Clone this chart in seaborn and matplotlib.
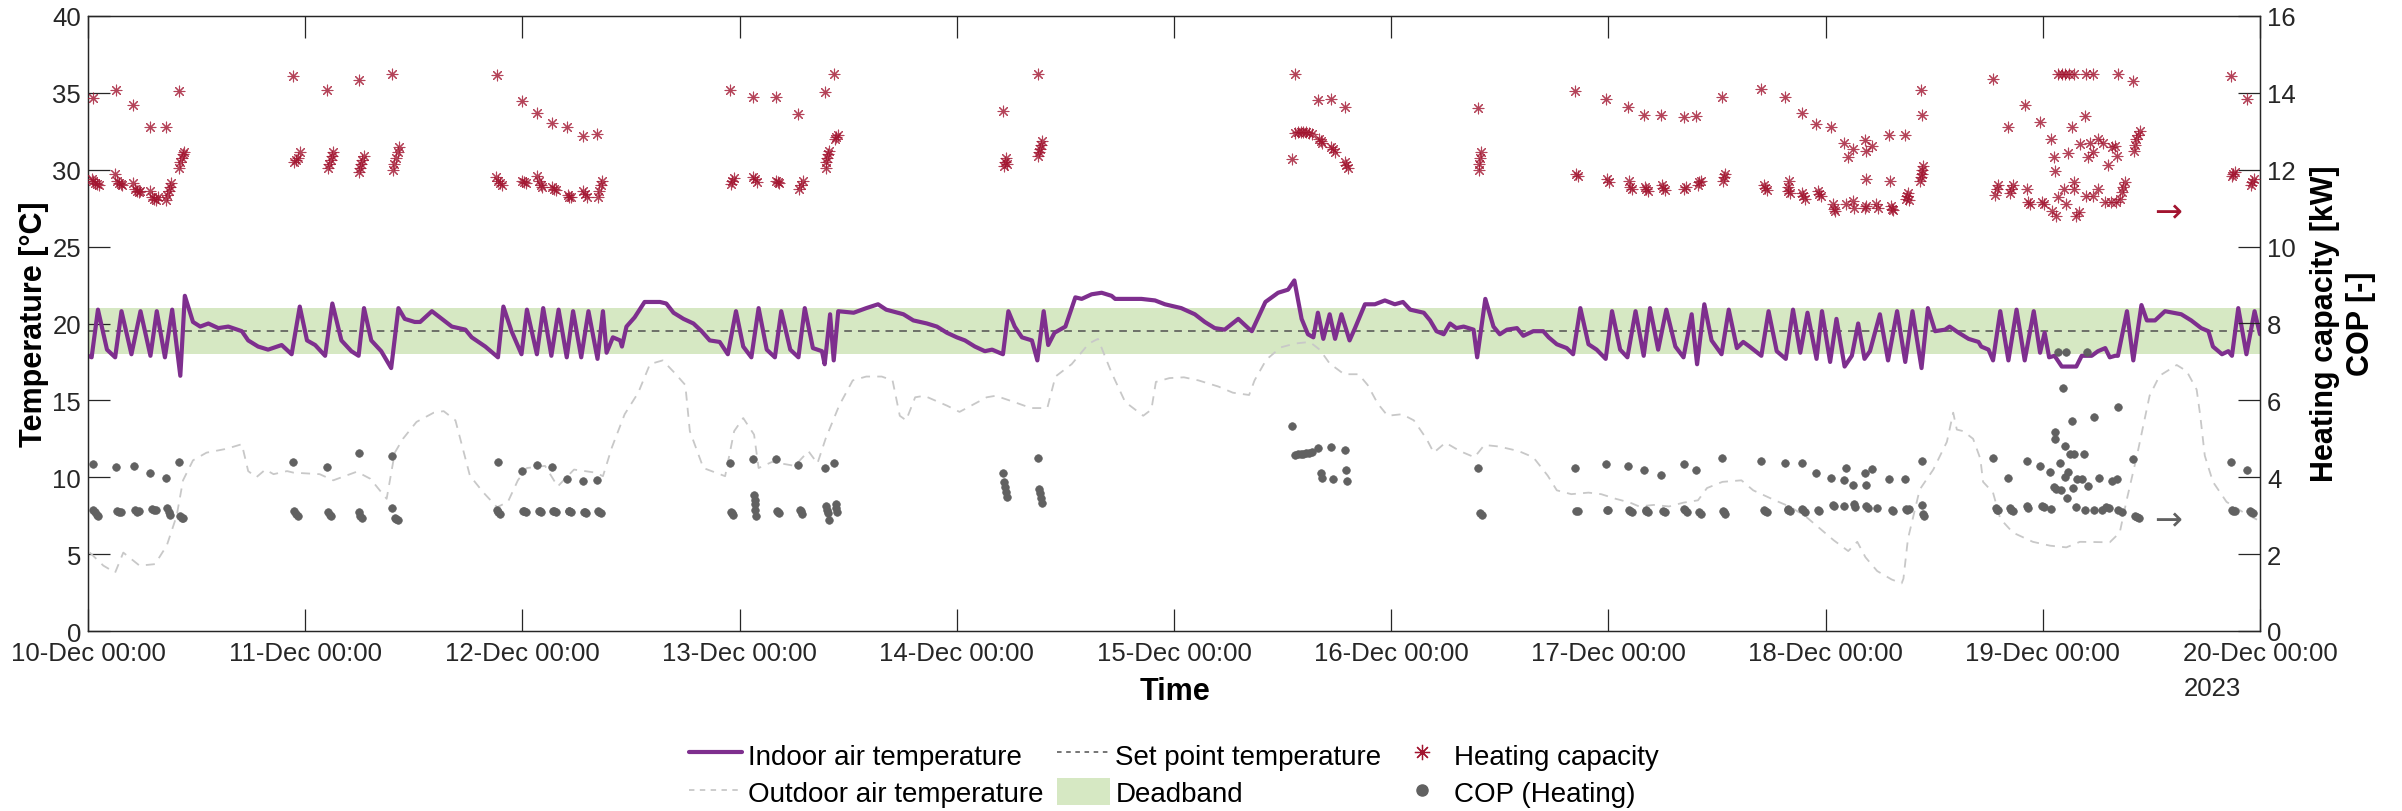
import numpy as np
import pandas as pd
import matplotlib
matplotlib.use("Agg")
import matplotlib.pyplot as plt
import seaborn as sns
from matplotlib.lines import Line2D
from matplotlib.patches import Patch

# ---------------- data (hours since 10-Dec 00:00) ----------------
indoor = [
    (0.0, 17.9), (0.4, 17.8), (1.1, 20.9), (2.1, 18.3), (3.0, 17.8), (3.7, 20.8), (4.8, 18.0),
    (5.8, 20.8), (6.9, 17.9), (7.6, 20.8), (8.5, 17.8), (9.3, 20.9), (10.2, 16.6), (10.7, 21.8),
    (11.6, 20.1), (12.4, 19.8), (13.3, 20.0), (14.4, 19.7), (15.5, 19.8), (17.0, 19.5), (17.7, 18.9),
    (18.8, 18.5), (19.9, 18.3), (21.4, 18.6), (22.5, 18.0), (23.4, 21.1), (24.2, 18.9), (25.1, 18.6),
    (26.2, 17.9), (27.0, 21.3), (28.0, 18.9), (29.1, 18.2), (29.9, 17.9), (30.5, 21.0), (31.3, 18.9),
    (32.4, 18.2), (33.5, 17.1), (34.3, 21.0), (35.0, 20.3), (36.1, 20.1), (36.7, 20.1), (38.0, 20.8),
    (39.1, 20.3), (40.2, 19.8), (41.7, 19.6), (42.4, 19.1), (43.9, 18.5), (45.3, 17.8), (45.9, 21.1),
    (46.8, 19.5), (47.9, 18.0), (48.5, 20.9), (49.6, 18.0), (50.3, 21.0), (51.2, 17.9), (52.0, 20.9),
    (52.9, 17.8), (53.6, 20.8), (54.5, 17.8), (55.3, 20.8), (56.3, 17.7), (56.9, 20.8), (57.3, 18.1),
    (58.0, 19.1), (58.8, 18.9), (59.0, 18.5), (59.5, 19.8), (60.4, 20.4), (61.5, 21.4), (63.2, 21.4),
    (63.9, 21.3), (64.7, 20.7), (65.8, 20.3), (66.9, 20.0), (67.8, 19.5), (68.7, 18.9), (69.8, 18.8),
    (70.7, 18.0), (71.6, 20.8), (72.4, 18.5), (73.3, 17.8), (74.1, 21.0), (75.0, 18.3), (75.9, 17.8),
    (76.6, 20.8), (77.6, 18.3), (78.5, 17.8), (79.2, 21.0), (80.1, 18.4), (81.1, 18.2), (81.4, 17.35),
    (82.0, 20.6), (82.4, 17.6), (82.9, 20.8), (84.6, 20.7), (86.0, 21.0), (87.3, 21.25), (88.2, 20.9),
    (90.1, 20.6), (91.2, 20.2), (92.7, 20.0), (93.8, 19.8), (94.9, 19.4), (96.0, 19.1), (96.9, 18.9),
    (98.0, 18.5), (99.1, 18.2), (99.9, 18.3), (101.1, 18.0), (101.7, 20.8), (102.4, 19.8), (103.2, 19.1),
    (104.3, 18.9), (104.9, 17.6), (105.6, 20.8), (106.1, 18.6), (106.8, 19.4), (108.0, 19.8), (109.1, 21.7),
    (109.8, 21.6), (110.9, 21.9), (112.0, 22.0), (113.1, 21.8), (113.5, 21.6), (114.6, 21.6), (116.4, 21.6),
    (117.9, 21.5), (119.0, 21.25), (120.8, 21.0), (122.3, 20.6), (123.4, 20.1), (124.5, 19.7), (125.6, 19.6),
    (127.1, 20.3), (128.2, 19.7), (128.6, 19.5), (130.1, 21.4), (131.5, 22.0), (132.6, 22.2), (133.3, 22.8),
    (134.1, 20.3), (134.8, 19.3), (135.4, 19.1), (135.9, 20.7), (136.5, 19.0), (137.2, 20.6), (137.8, 19.0),
    (138.5, 20.6), (139.4, 18.9), (140.0, 19.7), (141.1, 21.25), (142.2, 21.25), (143.3, 21.5), (144.4, 21.25),
    (145.3, 21.4), (146.1, 20.9), (147.6, 20.7), (148.3, 20.2), (149.0, 19.5), (149.8, 19.3), (150.5, 20.0),
    (151.2, 19.7), (152.0, 19.8), (153.1, 19.6), (153.5, 17.8), (154.4, 21.6), (155.3, 19.8), (156.0, 19.3),
    (156.8, 19.6), (157.9, 19.7), (158.6, 19.2), (159.7, 19.5), (160.8, 19.5), (161.4, 19.1), (162.3, 18.65),
    (163.4, 18.4), (164.1, 18.0), (164.9, 21.0), (165.8, 18.65), (166.7, 18.3), (167.7, 17.7), (168.4, 20.8),
    (169.3, 18.3), (170.1, 17.8), (171.0, 20.8), (171.9, 17.9), (172.6, 21.0), (173.5, 18.3), (174.4, 20.9),
    (175.4, 18.5), (176.3, 17.8), (177.2, 20.6), (177.8, 17.35), (178.6, 21.25), (179.4, 18.9), (180.5, 18.0),
    (181.3, 20.9), (182.2, 18.4), (182.9, 18.8), (183.6, 18.5), (184.9, 17.9), (185.7, 20.8), (186.6, 18.2),
    (187.6, 17.7), (188.4, 20.9), (189.2, 18.1), (190.0, 20.7), (191.0, 17.7), (191.6, 20.8), (192.5, 17.5),
    (193.2, 20.3), (194.1, 17.2), (194.9, 17.9), (195.6, 20.0), (196.3, 17.7), (196.9, 18.2), (198.0, 20.6),
    (198.9, 17.6), (199.9, 20.8), (200.8, 17.5), (201.6, 20.8), (202.6, 17.1), (203.3, 21.0), (204.1, 19.5),
    (205.2, 19.6), (205.7, 19.8), (206.7, 19.4), (207.8, 19.0), (208.9, 18.8), (209.2, 18.5), (210.0, 18.3),
    (210.5, 17.6), (211.3, 20.8), (212.2, 17.6), (213.1, 20.9), (214.0, 17.6), (215.0, 20.8), (215.7, 18.1),
    (216.2, 19.4), (216.7, 17.8), (217.3, 17.9), (218.1, 17.2), (219.2, 17.2), (219.7, 17.2), (220.3, 17.9),
    (221.4, 17.9), (222.1, 18.2), (222.9, 18.4), (223.4, 17.8), (224.0, 17.9), (224.3, 17.9), (225.3, 20.8),
    (226.0, 17.6), (226.9, 21.2), (227.5, 20.2), (228.4, 20.2), (229.5, 20.8), (231.3, 20.6), (232.4, 20.2),
    (233.5, 19.7), (234.3, 19.5), (234.8, 18.5), (235.8, 18.0), (236.5, 18.2), (236.9, 17.9), (237.6, 21.0),
    (238.5, 18.0), (239.4, 20.8), (240.0, 19.3),
]

outdoor = [
    (0.2, 5.1), (1.7, 4.25), (3.0, 3.8), (3.9, 5.1), (5.7, 4.25), (7.4, 4.35), (8.7, 5.55), (9.8, 7.5),
    (10.5, 9.8), (11.6, 11.1), (13.1, 11.6), (15.3, 11.85), (17.0, 12.15), (17.7, 10.4), (18.6, 10.0),
    (19.6, 10.5), (20.5, 10.2), (22.0, 10.4), (22.7, 10.3), (25.6, 10.2), (27.1, 9.8), (29.7, 10.36),
    (31.2, 9.9), (33.0, 8.6), (33.9, 11.6), (34.8, 12.5), (36.3, 13.6), (38.2, 14.2), (39.3, 14.3),
    (40.6, 13.7), (42.2, 10.1), (43.7, 9.0), (45.2, 8.05), (46.4, 8.4), (47.5, 9.8), (48.5, 10.6),
    (50.5, 10.74), (51.9, 9.4), (53.7, 10.5), (56.1, 10.3), (56.9, 10.07), (57.9, 11.96), (59.3, 14.1),
    (60.8, 15.5), (62.1, 17.36), (63.5, 17.6), (64.8, 16.8), (66.0, 16.0), (66.5, 13.0), (68.0, 10.6),
    (70.4, 10.07), (71.4, 13.0), (72.4, 13.85), (73.6, 12.77), (74.1, 10.6), (75.6, 11.0), (78.1, 10.74),
    (79.6, 11.7), (80.6, 10.9), (81.5, 12.5), (83.0, 14.66), (84.5, 16.3), (86.0, 16.55), (87.7, 16.55),
    (88.9, 16.3), (89.7, 14.0), (90.4, 13.7), (91.4, 15.2), (92.4, 15.3), (94.9, 14.66), (96.3, 14.25),
    (99.3, 15.2), (100.3, 15.3), (102.3, 14.9), (104.2, 14.5), (106.0, 14.5), (106.9, 16.55), (108.7, 17.36),
    (110.6, 18.7), (111.6, 19.0), (113.1, 16.8), (114.6, 14.9), (116.6, 14.0), (117.5, 14.4), (118.0, 16.2),
    (119.5, 16.45), (121.1, 16.5), (122.7, 16.3), (124.9, 15.9), (126.5, 15.5), (128.3, 15.35), (128.9, 16.3),
    (130.2, 17.65), (131.8, 18.45), (133.4, 18.7), (135.0, 18.8), (136.1, 18.3), (137.2, 17.4), (138.8, 16.7),
    (140.4, 16.7), (141.4, 16.0), (142.5, 14.8), (143.6, 14.0), (145.2, 14.1), (146.5, 13.7), (147.9, 12.5),
    (148.7, 11.6), (150.0, 12.25), (151.6, 11.7), (153.2, 11.3), (154.3, 12.1), (155.9, 12.0), (158.1, 11.7),
    (159.7, 11.3), (161.3, 10.1), (162.3, 9.15), (163.9, 8.9), (165.8, 9.0), (167.2, 8.9), (168.8, 8.6),
    (170.4, 8.35), (171.4, 8.1), (173.0, 8.2), (174.7, 8.1), (176.3, 8.35), (177.9, 8.5), (178.9, 9.3),
    (180.6, 9.7), (182.7, 9.8), (184.0, 9.15), (186.4, 8.5), (188.0, 8.1), (189.7, 7.5), (191.3, 6.7),
    (192.9, 5.9), (194.5, 5.2), (195.5, 5.8), (196.4, 4.8), (197.7, 3.9), (199.3, 3.35), (200.4, 3.1),
    (200.6, 3.4), (201.1, 6.0), (202.4, 9.2), (203.9, 10.5), (205.4, 12.3), (206.1, 14.2), (206.5, 13.1),
    (207.2, 13.0), (208.3, 12.5), (209.1, 11.2), (209.4, 9.7), (210.5, 9.0), (211.3, 7.3), (212.7, 6.4),
    (214.9, 5.8), (216.8, 5.55), (218.6, 5.44), (220.1, 5.8), (223.4, 5.77), (224.5, 6.4), (225.3, 8.6),
    (226.4, 11.4), (227.8, 15.3), (228.9, 16.6), (230.8, 17.3), (231.9, 16.9), (233.0, 15.7), (233.4, 14.0),
    (233.9, 11.4), (234.8, 9.7), (236.3, 8.4), (238.2, 7.7), (239.8, 7.2),
]

heating_capacity = [  # kW
    (0.5, 13.87), (3.1, 14.08), (5.0, 13.68), (6.9, 13.1), (8.6, 13.1), (10.1, 14.06),
    (0.4, 11.75), (0.6, 11.7), (0.8, 11.65), (1.0, 11.62), (1.2, 11.6),
    (3.0, 11.9), (3.2, 11.7), (3.4, 11.65), (3.6, 11.62), (3.8, 11.6),
    (5.0, 11.66), (5.2, 11.5), (5.4, 11.45), (5.6, 11.42), (5.8, 11.45),
    (6.9, 11.45), (7.1, 11.3), (7.3, 11.25), (7.5, 11.22), (7.7, 11.28),
    (8.6, 11.2), (8.7, 11.35), (8.9, 11.45), (9.1, 11.55), (9.2, 11.65),
    (10.1, 12.05), (10.2, 12.2), (10.35, 12.3), (10.5, 12.4), (10.6, 12.45),
    (22.7, 14.45), (26.4, 14.08), (29.9, 14.33), (33.6, 14.49),
    (22.8, 12.2), (23.0, 12.25), (23.2, 12.3), (23.4, 12.45),
    (26.5, 12.05), (26.6, 12.15), (26.8, 12.25), (27.0, 12.35), (27.1, 12.45),
    (29.9, 11.95), (30.0, 12.05), (30.2, 12.15), (30.3, 12.25), (30.5, 12.35),
    (33.7, 12.0), (33.8, 12.15), (34.0, 12.3), (34.2, 12.45), (34.4, 12.6),
    (45.2, 14.46), (48.0, 13.8), (49.6, 13.47), (51.3, 13.22), (52.9, 13.1), (54.7, 12.88), (56.2, 12.93),
    (45.1, 11.8), (45.3, 11.7), (45.5, 11.65), (45.7, 11.6),
    (48.0, 11.72), (48.2, 11.68), (48.4, 11.65),
    (49.6, 11.85), (49.8, 11.7), (50.0, 11.6), (50.2, 11.55),
    (51.3, 11.55), (51.5, 11.5), (51.7, 11.47),
    (53.0, 11.35), (53.2, 11.3), (53.4, 11.28),
    (54.7, 11.45), (54.9, 11.37), (55.1, 11.3),
    (56.3, 11.3), (56.5, 11.45), (56.7, 11.6), (56.8, 11.7),
    (70.9, 14.07), (73.5, 13.88), (76.0, 13.88), (78.4, 13.44), (81.4, 14.01), (82.4, 14.5),
    (71.0, 11.62), (71.2, 11.7), (71.4, 11.78),
    (73.5, 11.82), (73.7, 11.75), (73.9, 11.68),
    (76.0, 11.72), (76.2, 11.69), (76.4, 11.65),
    (78.6, 11.5), (78.8, 11.6), (79.0, 11.7),
    (81.5, 12.05), (81.6, 12.2), (81.7, 12.3), (81.8, 12.4), (81.9, 12.5),
    (82.5, 12.8), (82.7, 12.85), (82.9, 12.9),
    (101.1, 13.53), (105.0, 14.5),
    (101.2, 12.1), (101.3, 12.2), (101.4, 12.3), (101.5, 12.15),
    (105.0, 12.35), (105.1, 12.45), (105.2, 12.55), (105.3, 12.65), (105.4, 12.75),
    (133.4, 14.5), (133.0, 12.29),
    (133.4, 12.95), (133.7, 12.98), (134.0, 12.98), (134.3, 12.98), (134.6, 12.97), (134.9, 12.95), (135.2, 12.92),
    (135.9, 13.82), (137.3, 13.85), (138.9, 13.62),
    (136.0, 12.8), (136.2, 12.75), (136.4, 12.7),
    (137.4, 12.6), (137.6, 12.54), (137.8, 12.45),
    (138.9, 12.2), (139.0, 12.13), (139.2, 12.05),
    (153.6, 13.6), (153.7, 12.15), (153.8, 12.3), (153.9, 12.45), (153.75, 12.0),
    (164.3, 14.05), (167.7, 13.85), (170.2, 13.64), (171.9, 13.42), (173.8, 13.42), (176.3, 13.37),
    (177.7, 13.39), (180.6, 13.88),
    (164.4, 11.9), (164.6, 11.85), (167.9, 11.75), (168.1, 11.68),
    (170.3, 11.7), (170.4, 11.55), (170.6, 11.5), (172.0, 11.55), (172.2, 11.5), (172.4, 11.45),
    (173.9, 11.6), (174.0, 11.53), (174.2, 11.48), (176.4, 11.5), (176.6, 11.55),
    (177.9, 11.6), (178.0, 11.67), (178.2, 11.72), (180.7, 11.72), (180.8, 11.8), (180.9, 11.9),
    (184.9, 14.1), (187.5, 13.9), (189.4, 13.48), (190.9, 13.18), (192.6, 13.1), (194.0, 12.69),
    (195.0, 12.55), (196.3, 12.77), (197.1, 12.62), (199.0, 12.9), (200.8, 12.9), (194.5, 12.34),
    (196.5, 12.5), (196.5, 11.75), (199.1, 11.7), (188.0, 11.7),
    (185.2, 11.6), (185.3, 11.53), (185.5, 11.48), (187.8, 11.55), (187.9, 11.46), (188.1, 11.4),
    (189.4, 11.4), (189.5, 11.32), (189.7, 11.25), (191.2, 11.45), (191.3, 11.37), (191.5, 11.32),
    (192.8, 11.1), (192.9, 10.99), (193.0, 10.92), (194.3, 11.1), (195.0, 11.18), (195.1, 11.0),
    (196.3, 11.0), (196.5, 11.05), (197.6, 11.1), (197.8, 11.0), (199.2, 11.05), (199.3, 10.99),
    (199.5, 10.95), (200.9, 11.25), (201.0, 11.32), (201.1, 11.4), (201.2, 11.2),
    (202.5, 14.07), (202.7, 13.42),
    (202.4, 11.7), (202.5, 11.8), (202.6, 11.9), (202.7, 12.0), (202.8, 12.1),
    (210.5, 14.36), (212.2, 13.12), (214.0, 13.68), (215.7, 13.25), (216.9, 12.8), (217.2, 12.32),
    (217.3, 11.96), (217.7, 14.49), (218.1, 14.49), (218.5, 14.49), (218.9, 14.49), (219.4, 14.49),
    (220.8, 14.49), (221.6, 14.49), (224.3, 14.49), (226.0, 14.32),
    (218.8, 12.43), (219.2, 13.1), (220.7, 13.4), (220.1, 12.67), (221.0, 12.32), (221.6, 12.45),
    (222.1, 12.8), (222.7, 12.7), (223.6, 12.58), (224.0, 12.62), (224.2, 12.37), (223.2, 12.13),
    (221.2, 12.7), (226.1, 12.5), (226.2, 12.65), (226.3, 12.8), (226.5, 12.9), (226.7, 13.0),
    (210.7, 11.35), (210.9, 11.5), (211.1, 11.6), (212.4, 11.4), (212.5, 11.5), (212.7, 11.6),
    (214.2, 11.5), (214.4, 11.15), (214.6, 11.1), (215.9, 11.15), (216.1, 11.1),
    (217.0, 10.93), (217.5, 10.8), (217.7, 11.3), (218.3, 11.5), (218.6, 11.1),
    (219.4, 11.67), (219.5, 11.5), (219.7, 10.8), (220.0, 10.9), (220.8, 11.32), (221.5, 11.32),
    (222.1, 11.5), (222.9, 11.15), (223.5, 11.15), (224.1, 11.15), (224.5, 11.25), (224.7, 11.41),
    (224.9, 11.55), (225.1, 11.67),
    (236.8, 14.45), (238.6, 13.84), (236.9, 11.85), (237.0, 11.89), (237.2, 11.95),
    (239.0, 11.6), (239.1, 11.69), (239.3, 11.75),
]

cop_heating = [
    (0.5, 4.34), (3.1, 4.27), (5.1, 4.28), (6.9, 4.11), (8.6, 3.97), (10.1, 4.4),
    (0.6, 3.15), (0.8, 3.09), (1.0, 3.02), (1.1, 2.98), (3.2, 3.12), (3.4, 3.09), (3.6, 3.1),
    (5.2, 3.14), (5.4, 3.1), (5.6, 3.12), (7.1, 3.17), (7.3, 3.16), (7.5, 3.15),
    (8.7, 3.2), (8.9, 3.1), (9.1, 3.02), (10.2, 3.0), (10.35, 2.94), (10.5, 2.95),
    (22.7, 4.39), (26.4, 4.27), (29.9, 4.63), (33.6, 4.54),
    (22.8, 3.12), (23.0, 3.04), (23.2, 2.98), (26.5, 3.1), (26.7, 3.02), (26.9, 3.0),
    (29.9, 3.1), (30.1, 3.0), (30.3, 2.95), (33.6, 3.2), (33.9, 2.95), (34.0, 2.91), (34.2, 2.9),
    (45.3, 4.39), (48.0, 4.17), (49.6, 4.33), (51.3, 4.27), (52.9, 3.95), (54.7, 3.9), (56.2, 3.92),
    (45.2, 3.15), (45.3, 3.1), (45.5, 3.05), (48.1, 3.13), (48.2, 3.11), (48.4, 3.1),
    (49.8, 3.12), (49.9, 3.12), (50.1, 3.1), (51.4, 3.12), (51.5, 3.11), (51.7, 3.1),
    (53.1, 3.13), (53.2, 3.12), (53.4, 3.1), (54.8, 3.1), (54.9, 3.1), (55.0, 3.08),
    (56.4, 3.12), (56.5, 3.1), (56.7, 3.08),
    (70.9, 4.38), (73.5, 4.48), (76.0, 4.48), (78.4, 4.33), (81.4, 4.24), (82.4, 4.38),
    (71.1, 3.1), (71.2, 3.06), (71.3, 3.03), (73.6, 3.54), (73.65, 3.42), (73.7, 3.3), (73.75, 3.15),
    (73.8, 3.0), (76.1, 3.12), (76.2, 3.1), (76.3, 3.06), (78.7, 3.16), (78.8, 3.12), (78.9, 3.05),
    (81.6, 3.25), (81.7, 3.15), (81.75, 3.06), (81.9, 2.9), (82.6, 3.3), (82.7, 3.2), (82.75, 3.1),
    (101.1, 4.11), (101.2, 3.87), (101.3, 3.75), (101.4, 3.62), (101.5, 3.49),
    (105.0, 4.51), (105.1, 3.7), (105.2, 3.58), (105.3, 3.45), (105.4, 3.33),
    (133.0, 5.33), (133.4, 4.58), (133.7, 4.6), (134.0, 4.61), (134.3, 4.61), (134.6, 4.62),
    (134.9, 4.63), (135.2, 4.65), (135.9, 4.77), (137.3, 4.79), (138.9, 4.71), (136.2, 4.12),
    (136.4, 3.98), (137.6, 3.95), (139.0, 4.2), (139.1, 3.91),
    (153.6, 4.25), (153.8, 3.07), (154.0, 3.03),
    (164.3, 4.25), (167.7, 4.34), (170.2, 4.28), (171.9, 4.2), (173.8, 4.07), (176.3, 4.34),
    (177.7, 4.2), (180.6, 4.49),
    (164.4, 3.12), (164.6, 3.12), (167.9, 3.15), (168.0, 3.14), (170.3, 3.16), (170.4, 3.13),
    (170.6, 3.1), (172.1, 3.14), (172.2, 3.12), (172.4, 3.1), (174.0, 3.12), (174.2, 3.1),
    (176.4, 3.17), (176.5, 3.15), (176.7, 3.1), (178.0, 3.1), (178.2, 3.05), (180.7, 3.12),
    (180.8, 3.1), (180.9, 3.05),
    (184.9, 4.41), (187.5, 4.37), (189.4, 4.37), (190.9, 4.12), (192.6, 3.99), (194.2, 4.23),
    (194.0, 3.94), (195.0, 3.8), (196.3, 4.12), (197.1, 4.22), (196.5, 3.8), (199.0, 3.95), (200.8, 3.95),
    (185.2, 3.16), (185.3, 3.13), (185.5, 3.1), (187.8, 3.17), (187.9, 3.15), (188.1, 3.12),
    (189.4, 3.17), (189.5, 3.14), (189.7, 3.1), (191.2, 3.15), (191.3, 3.13), (192.8, 3.28),
    (192.9, 3.26), (194.0, 3.26), (195.1, 3.3), (195.3, 3.22), (196.5, 3.26), (196.7, 3.2),
    (197.7, 3.2), (199.3, 3.14), (199.5, 3.12), (200.9, 3.18), (201.0, 3.14), (201.2, 3.17),
    (202.6, 4.41), (202.6, 3.29), (202.8, 3.05), (202.9, 3.0),
    (210.5, 4.49), (210.8, 3.2), (210.9, 3.16), (211.1, 3.14), (212.2, 3.97), (212.4, 3.2),
    (212.5, 3.16), (212.7, 3.12), (214.2, 4.41), (214.3, 3.25), (214.4, 3.2), (215.7, 4.28),
    (215.9, 3.24), (216.1, 3.22), (216.9, 3.18), (216.8, 4.13), (217.2, 3.74), (217.5, 3.7),
    (218.0, 3.66), (217.3, 5.17), (217.3, 5.0), (217.9, 4.36), (218.2, 6.31), (218.4, 4.82),
    (218.8, 4.14), (218.4, 4.0), (218.7, 3.46), (219.2, 5.47), (219.0, 4.6), (219.5, 4.6),
    (219.3, 3.71), (219.7, 3.23), (219.8, 3.95), (220.6, 4.6), (220.3, 3.95), (220.7, 3.16),
    (221.0, 3.78), (221.7, 5.58), (221.7, 3.16), (222.2, 3.98), (222.5, 3.16), (223.0, 3.23),
    (223.3, 3.2), (223.6, 3.91), (224.2, 3.95), (224.3, 5.82), (224.3, 3.16), (224.7, 3.1),
    (226.0, 4.47), (226.2, 2.98), (226.4, 2.96), (226.6, 2.95),
    (217.7, 7.27), (218.6, 7.27), (220.9, 7.27),
    (236.8, 4.39), (236.9, 3.15), (237.0, 3.13), (237.2, 3.12), (238.6, 4.2), (238.9, 3.12),
    (239.0, 3.1), (239.2, 3.08),
]

set_point = 19.5
deadband = (18.0, 21.0)
tick_hours = [0, 24, 48, 72, 96, 120, 144, 168, 192, 216, 240]
tick_labels = ["10-Dec 00:00", "11-Dec 00:00", "12-Dec 00:00", "13-Dec 00:00", "14-Dec 00:00",
               "15-Dec 00:00", "16-Dec 00:00", "17-Dec 00:00", "18-Dec 00:00", "19-Dec 00:00",
               "20-Dec 00:00"]
year_label = "2023"

df_in = pd.DataFrame(indoor, columns=["hour", "temp"])
df_out = pd.DataFrame(outdoor, columns=["hour", "temp"])
df_hc = pd.DataFrame(heating_capacity, columns=["hour", "kw"])
df_cop = pd.DataFrame(cop_heating, columns=["hour", "cop"])

# ---------------- style ----------------
sns.set_theme(style="white")
plt.rcParams["font.family"] = ["Liberation Sans", "DejaVu Sans"]
plt.rcParams["axes.edgecolor"] = "#262626"
plt.rcParams["axes.linewidth"] = 0.9

C_IN = "#7E2F8E"
C_OUT = "#C8C8C8"
C_SP = "#505050"
C_DB = "#D6E8C3"
C_HC = "#A2142F"
C_COP = "#616161"
TXT = "#262626"

fig = plt.figure(figsize=(24.02, 8.12), dpi=100)
ax = fig.add_axes([88 / 2402, 1 - 632 / 812, (2260 - 88) / 2402, (632 - 17) / 812])

ax.axhspan(deadband[0], deadband[1], color=C_DB, lw=0, zorder=0)
ax.axhline(set_point, color=C_SP, lw=1.1, ls=(0, (5, 4)), zorder=1)
sns.lineplot(data=df_out, x="hour", y="temp", ax=ax, color=C_OUT, lw=1.3,
             linestyle=(0, (5, 4)), estimator=None, sort=False, zorder=2)
sns.lineplot(data=df_in, x="hour", y="temp", ax=ax, color=C_IN, lw=3.0,
             estimator=None, sort=False, zorder=3)

ax.set_xlim(0, 240)
ax.set_ylim(0, 40)
ax.set_yticks(np.arange(0, 41, 5))
ax.set_xticks(tick_hours)
ax.set_xticklabels(tick_labels)
ax.set_xlabel("")
ax.set_ylabel("")
ax.tick_params(axis="both", direction="in", length=16, width=0.9, colors=TXT,
               labelsize=18.5, labelcolor=TXT)
ax.tick_params(axis="x", top=True, bottom=True, pad=7)
ax.tick_params(axis="y", left=True, right=False, pad=5)

ax2 = ax.twinx()
sns.scatterplot(data=df_hc, x="hour", y="kw", ax=ax2, marker=(8, 2, 0), s=60,
                color=C_HC, linewidth=0.8, alpha=0.8, zorder=4)
sns.scatterplot(data=df_cop, x="hour", y="cop", ax=ax2, marker="o", s=30,
                color=C_COP, edgecolor=C_COP, linewidth=0.5, zorder=5)
ax2.set_ylim(0, 16)
ax2.set_yticks(np.arange(0, 17, 2))
ax2.set_ylabel("")
ax2.set_xlabel("")
ax2.tick_params(axis="y", direction="in", length=16, width=0.9, colors=TXT,
                labelsize=18.5, labelcolor=TXT, right=True, left=False, pad=5)
ax2.set_xlim(0, 240)

# direction arrows
ax2.text(229.8, 10.9, "\u2192", color=C_HC, fontsize=24, ha="center", va="center",
         family=["DejaVu Sans"])
ax2.text(229.8, 2.89, "\u2192", color=C_COP, fontsize=24, ha="center", va="center",
         family=["DejaVu Sans"])

# labels
fig.text(34 / 2402, 1 - 324 / 812, "Temperature [°C]", rotation=90, ha="center", va="center",
         fontsize=22, fontweight="bold", color="black")
fig.text(2343 / 2402, 1 - 324 / 812, "Heating capacity [kW]\nCOP [-]", rotation=90,
         ha="center", va="center", multialignment="center", linespacing=1.3,
         fontsize=22, fontweight="bold", color="black")
fig.text(1175 / 2402, 1 - 692 / 812, "Time", ha="center", va="center",
         fontsize=22, fontweight="bold", color="black")
fig.text(2212 / 2402, 1 - 689 / 812, year_label, ha="center", va="center",
         fontsize=18.5, color=TXT)

handles = [
    Line2D([], [], color=C_IN, lw=3.0),
    Line2D([], [], color=C_OUT, lw=1.3, ls=(0, (3, 3))),
    Line2D([], [], color=C_SP, lw=1.1, ls=(0, (3, 3))),
    Patch(facecolor=C_DB, edgecolor="none"),
    Line2D([], [], color=C_HC, lw=0, marker=(8, 2, 0), markersize=11, markeredgewidth=0.9),
    Line2D([], [], color=C_COP, lw=0, marker="o", markersize=8),
]
labels = ["Indoor air temperature", "Outdoor air temperature", "Set point temperature",
          "Deadband", "Heating capacity", "COP (Heating)"]
leg = fig.legend(handles, labels, ncol=3, loc="center", bbox_to_anchor=(1174 / 2402, 1 - 775 / 812),
                 frameon=False, fontsize=20, handlelength=1.9, handletextpad=0.2,
                 columnspacing=0.5, labelspacing=0.3, handleheight=1.1)
for t in leg.get_texts():
    t.set_color("black")

fig.savefig("out.png", dpi=100)
